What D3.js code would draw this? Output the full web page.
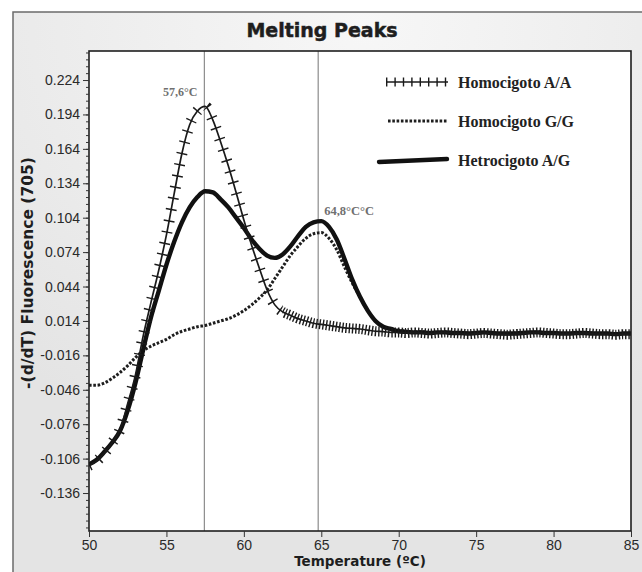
<!DOCTYPE html>
<html>
<head>
    <title>Melting Peaks</title>
    <script src="https://d3js.org/d3.v7.min.js"></script>
    <style>
        body { margin: 0; background: #fff; }
        svg { display: block; }
    </style>
</head>
<body>
    <svg width="642" height="572"></svg>

    <script>
        // Temperature grid (°C), read every 0.5 degree
        const temps = [
            50, 50.5, 51, 51.5, 52, 52.5, 53, 53.5, 54, 54.5,
            55, 55.5, 56, 56.5, 57, 57.5, 58, 58.5, 59, 59.5,
            60, 60.5, 61, 61.5, 62, 62.5, 63, 63.5, 64, 64.5,
            65, 65.5, 66, 66.5, 67, 67.5, 68, 68.5, 69, 69.5,
            70, 70.5, 71, 71.5, 72, 72.5, 73, 73.5, 74, 74.5,
            75, 75.5, 76, 76.5, 77, 77.5, 78, 78.5, 79, 79.5,
            80, 80.5, 81, 81.5, 82, 82.5, 83, 83.5, 84, 84.5, 85
        ];

        // -(d/dT) fluorescence for each genotype
        const homoAA = [
            -0.112, -0.108, -0.101, -0.092, -0.081, -0.058, -0.033, 0.001, 0.030, 0.058,
            0.089, 0.125, 0.160, 0.185, 0.197, 0.201, 0.189, 0.170, 0.149, 0.126,
            0.102, 0.080, 0.060, 0.041, 0.028, 0.022, 0.019, 0.016, 0.014, 0.012,
            0.011, 0.010, 0.009, 0.008, 0.0075, 0.007, 0.006, 0.005, 0.0047, 0.004,
            0.004, 0.0035, 0.004, 0.0035, 0.003, 0.0035, 0.004, 0.0035, 0.003, 0.0025,
            0.003, 0.0035, 0.003, 0.0025, 0.002, 0.0025, 0.003, 0.0035, 0.004, 0.0035,
            0.003, 0.0025, 0.0025, 0.003, 0.0035, 0.003, 0.0025, 0.0025, 0.002, 0.0025, 0.0025
        ];
        const homoGG = [
            -0.042, -0.042, -0.040, -0.036, -0.031, -0.025, -0.018, -0.012, -0.008, -0.005,
            -0.002, 0.002, 0.005, 0.007, 0.009, 0.010, 0.012, 0.014, 0.016, 0.019,
            0.023, 0.028, 0.034, 0.041, 0.051, 0.061, 0.071, 0.079, 0.086, 0.090,
            0.091, 0.086, 0.076, 0.061, 0.047, 0.035, 0.023, 0.014, 0.009, 0.007,
            0.006, 0.005, 0.0045, 0.0045, 0.004, 0.004, 0.0045, 0.004, 0.0035, 0.0035,
            0.004, 0.004, 0.0035, 0.003, 0.003, 0.0035, 0.004, 0.004, 0.0045, 0.004,
            0.0035, 0.003, 0.003, 0.0035, 0.004, 0.0035, 0.003, 0.003, 0.003, 0.003, 0.003
        ];
        const hetAG = [
            -0.111, -0.107, -0.100, -0.092, -0.082, -0.064, -0.040, -0.011, 0.017, 0.040,
            0.063, 0.083, 0.100, 0.113, 0.122, 0.127, 0.126, 0.120, 0.113, 0.104,
            0.095, 0.085, 0.077, 0.071, 0.069, 0.072, 0.079, 0.088, 0.096, 0.100,
            0.101, 0.096, 0.085, 0.068, 0.050, 0.035, 0.023, 0.014, 0.009, 0.007,
            0.005, 0.0045, 0.004, 0.004, 0.0035, 0.004, 0.004, 0.0035, 0.0035, 0.003,
            0.0035, 0.004, 0.0035, 0.003, 0.003, 0.003, 0.0035, 0.004, 0.004, 0.0035,
            0.0035, 0.003, 0.003, 0.0035, 0.0035, 0.003, 0.003, 0.003, 0.0025, 0.003, 0.003
        ];

        const seriesNames = ["Homocigoto A/A", "Homocigoto G/G", "Hetrocigoto A/G"];
        const xTicks = [50, 55, 60, 65, 70, 75, 80, 85];
        const yTicks = [0.224, 0.194, 0.164, 0.134, 0.104, 0.074, 0.044, 0.014,
                        -0.016, -0.046, -0.076, -0.106, -0.136];
        const peakTemps = [57.45, 64.8];
        const peakLabels = ["57,6°C", "64,8°C°C"];

        const svg = d3.select("svg");
        const plot = { left: 89, top: 51, right: 631, bottom: 531 };

        // grey panel behind everything
        const defs = svg.append("defs");
        const grad = defs.append("radialGradient")
            .attr("id", "panelGrad")
            .attr("cx", "0.5").attr("cy", "0.02").attr("r", "0.75");
        grad.append("stop").attr("offset", "0").attr("stop-color", "#f7f7f7");
        grad.append("stop").attr("offset", "1").attr("stop-color", "#e4e4e4");

        svg.append("rect")
            .attr("x", 13).attr("y", 12)
            .attr("width", 700).attr("height", 600)
            .attr("fill", "url(#panelGrad)")
            .attr("stroke", "#6b6b6b")
            .attr("stroke-width", 1.5);

        svg.append("text")
            .attr("x", 322).attr("y", 37)
            .attr("text-anchor", "middle")
            .attr("font-family", "DejaVu Sans")
            .attr("font-weight", "bold")
            .attr("font-size", 19)
            .attr("fill", "#1e1e1e")
            .attr("stroke", "#1e1e1e")
            .attr("stroke-width", 0.5)
            .text("Melting Peaks");

        // plot background
        svg.append("rect")
            .attr("x", plot.left).attr("y", plot.top)
            .attr("width", plot.right - plot.left)
            .attr("height", plot.bottom - plot.top)
            .attr("fill", "#fff");

        // scales
        const x = d3.scaleLinear().domain([50, 85]).range([plot.left, plot.right]);
        const y = d3.scaleLinear().domain([-0.1691, 0.2493]).range([plot.bottom, plot.top]);

        defs.append("clipPath").attr("id", "clip")
            .append("rect")
            .attr("x", plot.left).attr("y", plot.top)
            .attr("width", plot.right - plot.left)
            .attr("height", plot.bottom - plot.top);
        // the A/A crosses are sparse on the steep part and crowded on the flat tail
        const tailStart = 62.5;
        defs.append("clipPath").attr("id", "clipSteep")
            .append("rect")
            .attr("x", plot.left).attr("y", plot.top)
            .attr("width", x(tailStart) - plot.left)
            .attr("height", plot.bottom - plot.top);
        defs.append("clipPath").attr("id", "clipTail")
            .append("rect")
            .attr("x", x(tailStart)).attr("y", plot.top)
            .attr("width", plot.right - x(tailStart))
            .attr("height", plot.bottom - plot.top);

        // peak marker lines
        svg.selectAll(".peak")
            .data(peakTemps)
            .enter().append("line")
            .attr("x1", d => x(d)).attr("x2", d => x(d))
            .attr("y1", plot.top).attr("y2", plot.bottom)
            .attr("stroke", "#8c8c8c")
            .attr("stroke-width", 1.2);

        const line = d3.line()
            .x((d, i) => x(temps[i]))
            .y(d => y(d))
            .curve(d3.curveMonotoneX);

        const curves = svg.append("g").attr("clip-path", "url(#clip)");

        // G/G dotted
        curves.append("path")
            .datum(homoGG)
            .attr("fill", "none")
            .attr("stroke", "#1e1e1e")
            .attr("stroke-width", 3)
            .attr("stroke-dasharray", "2.6 1.7")
            .attr("d", line);

        // A/G thick
        curves.append("path")
            .datum(hetAG)
            .attr("fill", "none")
            .attr("stroke", "#111")
            .attr("stroke-width", 4.4)
            .attr("stroke-linejoin", "round")
            .attr("d", line);

        // A/A with cross marks
        curves.append("path")
            .datum(homoAA)
            .attr("fill", "none")
            .attr("stroke", "#1a1a1a")
            .attr("stroke-width", 1.7)
            .attr("d", line);
        curves.append("g").attr("clip-path", "url(#clipSteep)")
            .append("path")
            .datum(homoAA)
            .attr("fill", "none")
            .attr("stroke", "#1a1a1a")
            .attr("stroke-width", 11)
            .attr("stroke-dasharray", "1.4 10")
            .attr("d", line);
        curves.append("g").attr("clip-path", "url(#clipTail)")
            .append("path")
            .datum(homoAA)
            .attr("fill", "none")
            .attr("stroke", "#1a1a1a")
            .attr("stroke-width", 10)
            .attr("stroke-dasharray", "1.4 1.9")
            .attr("d", line);

        // peak labels
        svg.append("text")
            .attr("x", x(peakTemps[0]) - 7).attr("y", 96)
            .attr("text-anchor", "end")
            .attr("font-family", "Liberation Serif")
            .attr("font-weight", "bold")
            .attr("font-size", 12)
            .attr("fill", "#707070")
            .text(peakLabels[0]);
        svg.append("text")
            .attr("x", x(peakTemps[1]) + 6).attr("y", 215)
            .attr("font-family", "Liberation Serif")
            .attr("font-weight", "bold")
            .attr("font-size", 12.5)
            .attr("fill", "#707070")
            .text(peakLabels[1]);

        // frame
        svg.append("rect")
            .attr("x", plot.left).attr("y", plot.top)
            .attr("width", plot.right - plot.left)
            .attr("height", plot.bottom - plot.top)
            .attr("fill", "none")
            .attr("stroke", "#1e1e1e")
            .attr("stroke-width", 1.6);

        // axes
        const xAxis = svg.append("g")
            .attr("transform", `translate(0,${plot.bottom})`)
            .call(d3.axisBottom(x).tickValues(xTicks).tickSize(6).tickPadding(3)
                .tickFormat(d => String(d)));
        xAxis.select(".domain").remove();

        const minorY = d3.range(-0.166, 0.249, 0.006);
        const yMinor = svg.append("g")
            .attr("transform", `translate(${plot.left},0)`)
            .call(d3.axisLeft(y).tickValues(minorY).tickSize(3).tickFormat(""));
        yMinor.select(".domain").remove();

        const yAxis = svg.append("g")
            .attr("transform", `translate(${plot.left},0)`)
            .call(d3.axisLeft(y).tickValues(yTicks).tickSize(6).tickPadding(3)
                .tickFormat(d => d.toFixed(3)));
        yAxis.select(".domain").remove();

        svg.selectAll(".tick line").attr("stroke", "#333");
        svg.selectAll(".tick text")
            .attr("font-family", "Liberation Sans")
            .attr("font-size", 14)
            .attr("fill", "#2a2a2a");

        // axis titles
        svg.append("text")
            .attr("x", (plot.left + plot.right) / 2).attr("y", 566)
            .attr("text-anchor", "middle")
            .attr("font-family", "DejaVu Sans")
            .attr("font-weight", "bold")
            .attr("font-size", 13.5)
            .attr("fill", "#1e1e1e")
            .text("Temperature (ºC)");

        svg.append("text")
            .attr("transform", "translate(33,273) rotate(-90)")
            .attr("text-anchor", "middle")
            .attr("font-family", "DejaVu Sans")
            .attr("font-weight", "bold")
            .attr("font-size", 15.5)
            .attr("fill", "#1e1e1e")
            .text("-(d/dT) Fluorescence (705)");

        // legend
        const legendY = [82, 121, 160];
        const legend = svg.append("g");
        const sample = d3.line();

        legend.append("path")
            .attr("d", sample([[386, legendY[0]], [448, legendY[0]]]))
            .attr("stroke", "#1a1a1a").attr("stroke-width", 1.7).attr("fill", "none");
        legend.append("path")
            .attr("d", sample([[386, legendY[0]], [448, legendY[0]]]))
            .attr("stroke", "#1a1a1a").attr("stroke-width", 9)
            .attr("stroke-dasharray", "1.4 7").attr("fill", "none");
        legend.append("path")
            .attr("d", sample([[388, legendY[1]], [447, legendY[1]]]))
            .attr("stroke", "#1e1e1e").attr("stroke-width", 3)
            .attr("stroke-dasharray", "2.6 1.7").attr("fill", "none");
        legend.append("path")
            .attr("d", sample([[379, legendY[2] + 2], [447, legendY[2] - 1]]))
            .attr("stroke", "#111").attr("stroke-width", 4.4)
            .attr("stroke-linecap", "round").attr("fill", "none");

        legend.selectAll("text")
            .data(seriesNames)
            .enter().append("text")
            .attr("x", 458)
            .attr("y", (d, i) => legendY[i] + 5.5)
            .attr("font-family", "Liberation Serif")
            .attr("font-weight", "bold")
            .attr("font-size", 16)
            .attr("fill", "#222")
            .text(d => d);
    </script>
</body>
</html>
